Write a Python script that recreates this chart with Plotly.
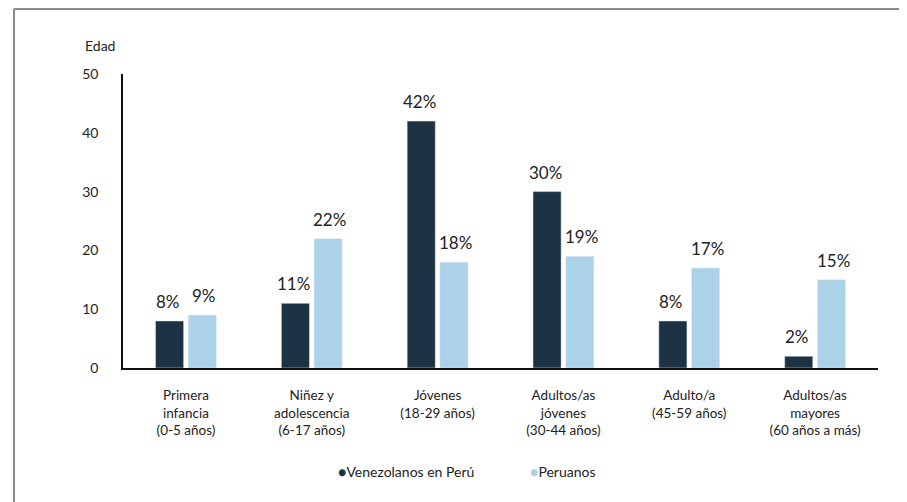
import plotly.graph_objects as go

categories = ["Primera<br>infancia<br>(0-5 años)", "Niñez y<br>adolescencia<br>(6-17 años)",
              "Jóvenes<br>(18-29 años)", "Adultos/as<br>jóvenes<br>(30-44 años)",
              "Adulto/a<br>(45-59 años)", "Adultos/as<br>mayores<br>(60 años a más)"]
venezolanos = [8, 11, 42, 30, 8, 2]
peruanos = [9, 22, 18, 19, 17, 15]
y_ticks = [0, 10, 20, 30, 40, 50]
series_names = ["Venezolanos en Perú", "Peruanos"]

DARK = "#1d3242"
LIGHT = "#abd2e8"
FONT = "Lato"

fig = go.Figure()
fig.add_trace(go.Bar(x=categories, y=venezolanos, name=series_names[0], marker_color=DARK))
fig.add_trace(go.Bar(x=categories, y=peruanos, name=series_names[1], marker_color=LIGHT))

# page body has an 8px offset, so figure is sized/positioned to compensate
W, H = 899, 494
L, T, R, B = 115, 66, 29, 134
pw, ph = W - L - R, H - T - B

def px(x):
    return (x - 8 - L) / pw

def py(y):
    return (H - B - (y - 8)) / ph

# value labels above each bar
value_ann = []
for series, shift in ((venezolanos, -18), (peruanos, 18)):
    for c, v in zip(categories, series):
        value_ann.append(dict(text=f"{v}%", xref="x", yref="y", x=c, y=v, xshift=shift, yshift=7,
                              xanchor="center", yanchor="bottom", showarrow=False,
                              font=dict(size=17, color="#222")))

legend_ann = [
    dict(text=f"<span style='color:{DARK}'>●</span>{series_names[0]}", x=px(336), y=py(471),
         xanchor="left", yanchor="middle"),
    dict(text=f"<span style='color:{LIGHT}'>●</span>{series_names[1]}", x=px(528), y=py(471),
         xanchor="left", yanchor="middle"),
]

fig.update_layout(
    width=W, height=H,
    margin=dict(l=L, r=R, t=T, b=B),
    plot_bgcolor="white", paper_bgcolor="white",
    font=dict(family=FONT, size=13, color="#222"),
    barmode="group", bargap=0.48, bargroupgap=0.14,
    showlegend=False,
    xaxis=dict(showline=True, linecolor="#111", linewidth=1.5, ticks="outside", ticklen=14,
               tickcolor="rgba(0,0,0,0)", tickfont=dict(size=13.5), showgrid=False),
    yaxis=dict(range=[0, 50], tickvals=y_ticks, showline=True, linecolor="#111", linewidth=1.5,
               ticks="outside", ticklen=20, tickcolor="rgba(0,0,0,0)", showgrid=False,
               zeroline=False, tickfont=dict(size=14)),
    annotations=[dict(text="Edad", xref="paper", yref="paper", x=px(100), y=py(46),
                      xanchor="center", yanchor="middle", showarrow=False, font=dict(size=14))]
    + [dict(a, xref="paper", yref="paper", showarrow=False, font=dict(size=14)) for a in legend_ann]
    + value_ann,
    shapes=[
        dict(type="line", xref="paper", yref="paper", x0=px(14), x1=px(14), y0=py(9), y1=py(520),
             line=dict(color="#8a8a8a", width=2)),
        dict(type="line", xref="paper", yref="paper", x0=px(14), x1=px(905), y0=py(9), y1=py(9),
             line=dict(color="#8a8a8a", width=2)),
        dict(type="line", xref="paper", yref="paper", x0=px(905), x1=px(905), y0=py(9), y1=py(520),
             line=dict(color="#d8d8d8", width=1)),
    ],
)

fig.write_html("out.html")
